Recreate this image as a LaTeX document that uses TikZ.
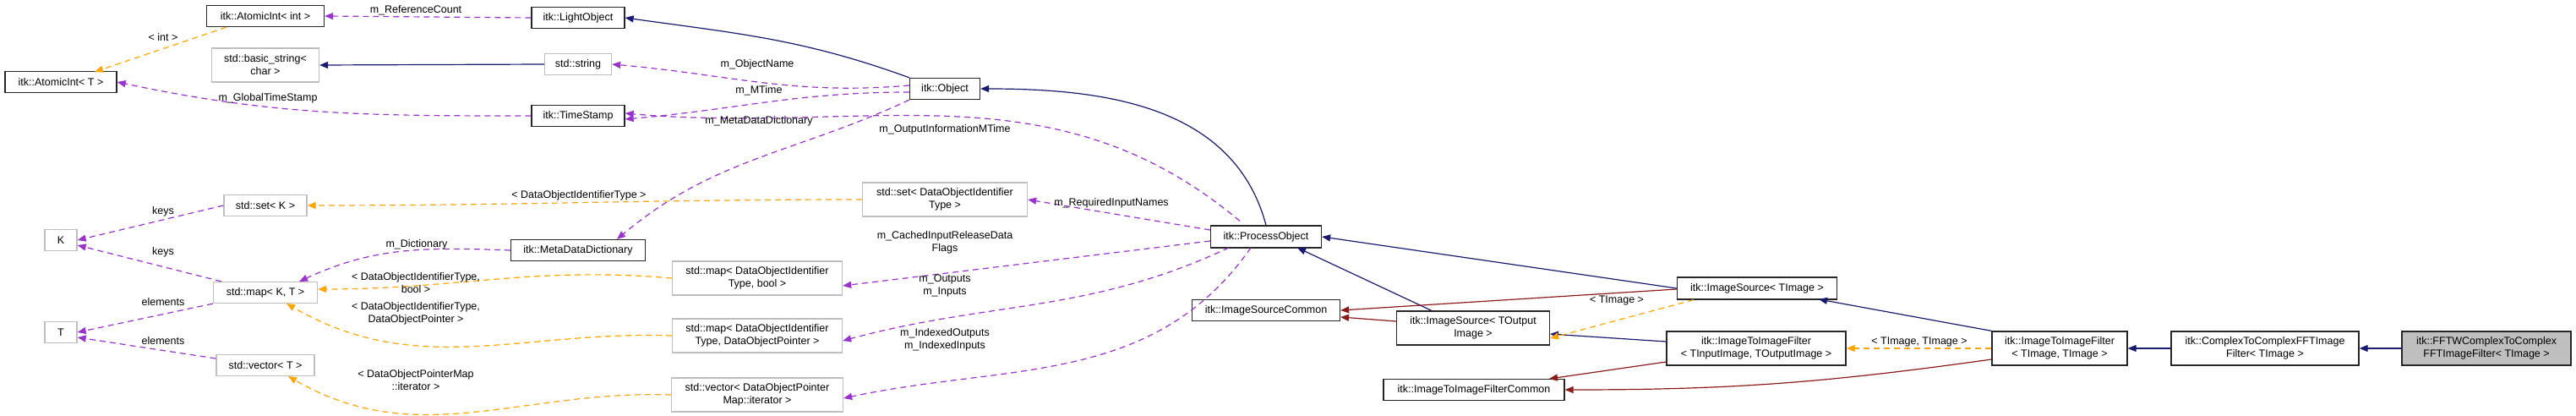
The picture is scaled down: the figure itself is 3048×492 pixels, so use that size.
\documentclass[tikz,border=0pt]{standalone}
\usepackage{fontspec}
\setmainfont{Liberation Sans}
\usetikzlibrary{arrows.meta}
\definecolor{inhc}{HTML}{191970}
\definecolor{redc}{HTML}{8B1A1A}
\definecolor{purc}{HTML}{9A32CD}
\definecolor{orac}{HTML}{FFA500}
\definecolor{grayb}{HTML}{BFBFBF}
\begin{document}
\begin{tikzpicture}[x=1pt,y=-1pt,
  font=\fontsize{12.5}{15}\selectfont,
  doc/.style={draw=black!85,line width=1.3pt,fill=white,inner sep=0pt,align=center,minimum height=25pt},
  undoc/.style={draw=grayb,line width=1.3pt,fill=white,inner sep=0pt,align=center,minimum height=25pt},
  two/.style={minimum height=40pt},
  tip/.style={-{Triangle[width=8pt,length=10pt]}},
  inh/.style={tip,draw=inhc,line width=1.2pt},
  redl/.style={tip,draw=redc,line width=1.2pt},
  comp/.style={tip,draw=purc,line width=1.2pt,dash pattern=on 7pt off 5pt},
  tmpl/.style={tip,draw=orac,line width=1.2pt,dash pattern=on 7pt off 5pt},
  lbl/.style={inner sep=0pt,align=center}]
\useasboundingbox (0,0) rectangle (3048,492);
% nodes
\node[doc,minimum width=139pt] (aiint) at (314,19) {itk::AtomicInt< int >};
\node[doc,minimum width=110pt] (light) at (684,21) {itk::LightObject};
\node[undoc,two,minimum width=127pt] (bstr) at (314,77) {std::basic\_string<\\char >};
\node[undoc,minimum width=79pt] (str) at (684,76) {std::string};
\node[doc,minimum width=132pt] (aiT) at (72,97) {itk::AtomicInt< T >};
\node[doc,minimum width=110pt] (ts) at (684,137) {itk::TimeStamp};
\node[undoc,minimum width=98pt] (setK) at (314,243) {std::set< K >};
\node[undoc,minimum width=38pt] (K) at (72,284) {K};
\node[doc,minimum width=159pt] (mdd) at (684,296) {itk::MetaDataDictionary};
\node[undoc,minimum width=123pt] (mapKT) at (314,346) {std::map< K, T >};
\node[undoc,minimum width=38pt] (T) at (72,393) {T};
\node[undoc,minimum width=116pt] (vecT) at (314,432) {std::vector< T >};
\node[doc,minimum width=83pt] (obj) at (1118,105) {itk::Object};
\node[undoc,two,minimum width=195pt] (setD) at (1118,236) {std::set< DataObjectIdentifier\\Type >};
\node[undoc,two,minimum width=201pt] (mapB) at (896,329) {std::map< DataObjectIdentifier\\Type, bool >};
\node[undoc,two,minimum width=201pt] (mapP) at (896,397) {std::map< DataObjectIdentifier\\Type, DataObjectPointer >};
\node[undoc,two,minimum width=203pt] (vecP) at (896,467) {std::vector< DataObjectPointer\\Map::iterator >};
\node[doc,minimum width=131pt,minimum height=26pt] (po) at (1498,280) {itk::ProcessObject};
\node[doc,minimum width=175pt] (isc) at (1498,367) {itk::ImageSourceCommon};
\node[doc,two,minimum width=181pt] (iso) at (1743,388) {itk::ImageSource< TOutput\\Image >};
\node[doc,minimum width=214pt] (iifc) at (1744,461) {itk::ImageToImageFilterCommon};
\node[doc,minimum width=189pt,minimum height=26pt] (isi) at (2079,341) {itk::ImageSource< TImage >};
\node[doc,two,minimum width=212pt] (iifio) at (2078,412) {itk::ImageToImageFilter\\< TInputImage, TOutputImage >};
\node[doc,two,minimum width=160pt] (iifii) at (2437,412) {itk::ImageToImageFilter\\< TImage, TImage >};
\node[doc,two,minimum width=222pt] (c2c) at (2680,412) {itk::ComplexToComplexFFTImage\\Filter< TImage >};
\node[doc,two,minimum width=200pt,fill=black!25] (fftw) at (2942,412) {itk::FFTWComplexToComplex\\FFTImageFilter< TImage >};
% inheritance
\draw[inh] (obj.north west) to[out=160,in=-8] (light.east);
\draw[inh] (str.west) -- (bstr.east);
\draw[inh] (po.north) to[out=105,in=0] (obj.east);
\draw[inh] (isi.west) -- (po.east);
\draw[inh] (iso.north west)+(42,0) -- (1535,293);
\draw[inh] (iifio.west) ++(0,-8) -- (1834,395);
\draw[inh] (iifii.north west) -- (2152,354);
\draw[inh] (c2c.west) -- (iifii.east);
\draw[inh] (fftw.west) -- (c2c.east);
% red
\draw[redl] (isi.west) ++(0,1) -- (isc.east);
\draw[redl] (iso.west) ++(0,-8) -- (1586,375);
\draw[redl] (iifio.west) ++(0,16) -- (1833,448);
\draw[redl] (iifii.west) ++(0,13) to[out=188,in=0] (iifc.east);
% composition
\draw[comp] (light.west) -- (aiint.east);
\draw[comp] (obj.west) ++(0,-4) to[out=185,in=-5] (str.east);
\draw[comp] (obj.west) ++(0,4) to[out=180,in=5] ([yshift=-4pt]ts.east);
\draw[comp] (po.north west) ++(35,-5) to[out=140,in=-5] ([yshift=3pt]ts.east);
\draw[comp] (ts.west) to[out=180,in=-12] (aiT.east);
\draw[comp] (obj.south west) to[out=-155,in=40] (730,283);
\draw[comp] (mdd.west) to[out=178,in=25] (354,333);
\draw[comp] (setK.west) -- (K.east);
\draw[comp] (mapKT.north west) ++(10,0) -- ([yshift=-6pt]K.east);
\draw[comp] (mapKT.south west) -- (T.east);
\draw[comp] (vecT.west) ++(0,-8) -- ([yshift=-6pt]T.east);
\draw[comp] (po.west) ++(0,-8) -- (setD.east);
\draw[comp] (po.west) ++(0,5) -- ([yshift=-9pt]mapB.east);
\draw[comp] (1454,293) to[out=-155,in=15] ([yshift=-6pt]mapP.east);
\draw[comp] (1480,293) to[out=-125,in=12] ([yshift=-4pt]vecP.east);
% template
\draw[tmpl] (aiint.south west) ++(24,0) -- (112,85);
\draw[tmpl] (setD.west) to[out=180,in=0] (setK.east);
\draw[tmpl] (mapB.west) to[out=175,in=0] ([yshift=4pt]mapKT.east);
\draw[tmpl] (mapP.west) to[out=178,in=-30] (339,359);
\draw[tmpl] (vecP.west) to[out=178,in=-30] (341,445);
\draw[tmpl] (isi.south west) ++(20,0) -- ([yshift=-12pt]iso.east);
\draw[tmpl] (iifii.west) -- (iifio.east);
% labels
\node[lbl] (l1) at (492,12) {m\_ReferenceCount};
\node[lbl] (l2) at (896,76) {m\_ObjectName};
\node[lbl] (l3) at (898,107) {m\_MTime};
\node[lbl] (l4) at (898,143) {m\_MetaDataDictionary};
\node[lbl] (l5) at (1118,153) {m\_OutputInformationMTime};
\node[lbl] (l6) at (317,116) {m\_GlobalTimeStamp};
\node[lbl] (l7) at (193,44) {< int >};
\node[lbl] (l8) at (685,231) {< DataObjectIdentifierType >};
\node[lbl] (l9) at (493,289) {m\_Dictionary};
\node[lbl] (l10) at (193,250) {keys};
\node[lbl] (l11) at (193,298) {keys};
\node[lbl] (l12) at (193,357) {elements};
\node[lbl] (l13) at (193,403) {elements};
\node[lbl] (l14) at (492,335) {< DataObjectIdentifierType,\\bool >};
\node[lbl] (l15) at (492,371) {< DataObjectIdentifierType,\\DataObjectPointer >};
\node[lbl] (l16) at (492,450) {< DataObjectPointerMap\\::iterator >};
\node[lbl] (l17) at (1315,240) {m\_RequiredInputNames};
\node[lbl] (l18) at (1118,287) {m\_CachedInputReleaseData\\Flags};
\node[lbl] (l19) at (1118,338) {m\_Outputs\\m\_Inputs};
\node[lbl] (l20) at (1118,402) {m\_IndexedOutputs\\m\_IndexedInputs};
\node[lbl] (l21) at (1913,355) {< TImage >};
\node[lbl] (l22) at (2271,404) {< TImage, TImage >};
\end{tikzpicture}
\end{document}
